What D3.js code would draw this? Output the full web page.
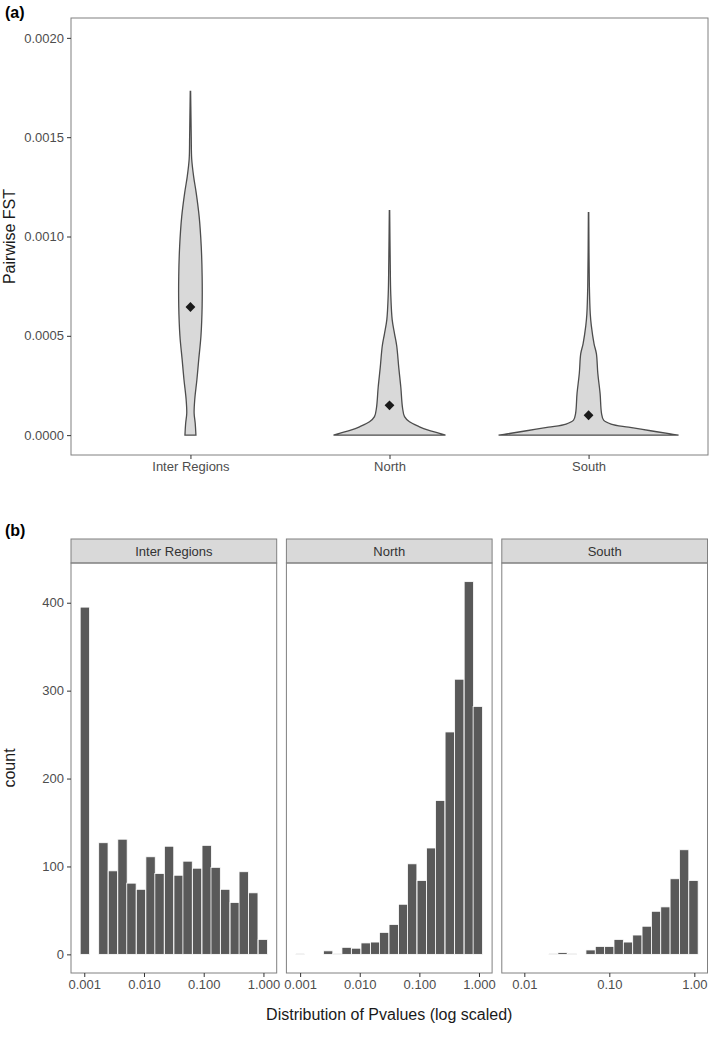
<!DOCTYPE html>
<html>
<head>
<meta charset="utf-8">
<script src="https://cdn.jsdelivr.net/npm/d3@7"></script>
<style>
  body { margin: 0; background: #fff; }
  text { font-family: "Liberation Sans", Arial, sans-serif; }
</style>
</head>
<body>
<svg id="fig" width="709" height="1046"></svg>
<script>
/*******************************************************************************************/
// Data

var groups = ['Inter Regions', 'North', 'South'];
var fstMeans = [0.000645, 0.00015, 0.0001];
var fstLimits = [0, 0.002];
var fstTicks = [0, 0.0005, 0.0010, 0.0015, 0.0020];

// violin outlines: FST level and scaled density (1 = widest violin)
var interFst  = [0, 0.00006, 0.00011, 0.00018, 0.00028, 0.00038, 0.0005, 0.00065, 0.0008, 0.00095, 0.0011, 0.00122, 0.0013, 0.00139, 0.0015, 0.0016, 0.00173];
var interDens = [0.061, 0.053, 0.041, 0.048, 0.072, 0.092, 0.117, 0.13, 0.13, 0.12, 0.097, 0.064, 0.036, 0.014, 0.009, 0.006, 0.002];
var northFst  = [0, 0.000009, 0.000026, 0.000042, 0.000067, 0.000093, 0.00014, 0.00024, 0.00034, 0.00045, 0.00051, 0.00058, 0.00071, 0.00087, 0.00113];
var northDens = [0.622, 0.556, 0.422, 0.333, 0.222, 0.167, 0.144, 0.126, 0.103, 0.08, 0.056, 0.03, 0.014, 0.008, 0.002];
var southFst  = [0, 0.000006, 0.000022, 0.00004, 0.000056, 0.000076, 0.00011, 0.00021, 0.00031, 0.00041, 0.00046, 0.00055, 0.00061, 0.00075, 0.00112];
var southDens = [1, 0.911, 0.689, 0.444, 0.25, 0.167, 0.144, 0.128, 0.103, 0.087, 0.061, 0.031, 0.019, 0.009, 0.002];

// histograms: bin centres (log10 p) and counts
var interBins   = [-2.99, -2.83, -2.68, -2.52, -2.36, -2.21, -2.05, -1.89, -1.74, -1.58, -1.42, -1.27, -1.11, -0.95, -0.80, -0.64, -0.48, -0.33, -0.17, -0.01];
var interCounts = [395, 0, 127, 95, 131, 81, 74, 111, 92, 123, 90, 106, 98, 124, 99, 74, 59, 94, 70, 17];
var northBins   = [-3.00, -2.84, -2.69, -2.53, -2.37, -2.22, -2.06, -1.90, -1.74, -1.59, -1.43, -1.27, -1.12, -0.96, -0.80, -0.65, -0.49, -0.33, -0.17, -0.02];
var northCounts = [1, 0, 0, 4, 1, 8, 7, 13, 14, 25, 34, 57, 103, 84, 121, 175, 253, 313, 424, 282];
var southBins   = [-2.10, -1.99, -1.88, -1.77, -1.66, -1.55, -1.44, -1.33, -1.22, -1.11, -1.00, -0.89, -0.78, -0.67, -0.56, -0.45, -0.34, -0.23, -0.12, -0.01];
var southCounts = [0, 0, 0, 0, 1, 2, 1, 0, 5, 9, 9, 17, 14, 22, 32, 49, 54, 86, 119, 84];

var binWidths = [0.1566, 0.157, 0.11];
var logDomains = [[-3.222, 0.222], [-3.23, 0.22], [-2.265, 0.155]];
var pTicks = [[0.001, 0.01, 0.1, 1], [0.001, 0.01, 0.1, 1], [0.01, 0.1, 1]];
var pFormats = ['.3f', '.3f', '.2f'];
var countTicks = [0, 100, 200, 300, 400];

/*******************************************************************************************/
// Setup

var svg = d3.select('#fig');
var borderCol = '#808080', tickCol = '#333', labCol = '#4d4d4d';

function styleAxis(g){
  g.select('.domain').remove();
  g.selectAll('line').attr('stroke', tickCol);
  g.selectAll('text').attr('fill', labCol).style('font-size', '13px');
}

/*******************************************************************************************/
// (a) violins

var box = { x0: 71, x1: 708, y0: 18, y1: 455 };
var pad = (fstLimits[1] - fstLimits[0]) * 0.05;
var yFst = d3.scaleLinear().domain([fstLimits[0] - pad, fstLimits[1] + pad]).range([box.y1, box.y0]);
var xGrp = d3.scalePoint().domain(groups).range([box.x0, box.x1]).padding(0.6);
var wScale = d3.scaleLinear().domain([0, 1]).range([0, 90]);

svg.append('rect').attr('x', box.x0).attr('y', box.y0).attr('width', box.x1 - box.x0).attr('height', box.y1 - box.y0)
   .attr('fill', 'none').attr('stroke', borderCol).attr('stroke-width', 1);

var violins = [
  { name: groups[0], fst: interFst, dens: interDens, mean: fstMeans[0] },
  { name: groups[1], fst: northFst, dens: northDens, mean: fstMeans[1] },
  { name: groups[2], fst: southFst, dens: southDens, mean: fstMeans[2] }
];

violins.forEach(function(v){
  var cx = xGrp(v.name);
  var pts = v.fst.map(function(f, i){ return { f: f, d: v.dens[i] } });
  var area = d3.area()
    .y(function(d){ return yFst(d.f) })
    .x0(function(d){ return cx - wScale(d.d) })
    .x1(function(d){ return cx + wScale(d.d) })
    .curve(d3.curveCatmullRom.alpha(0.5));
  svg.append('path').attr('d', area(pts))
     .attr('fill', '#d9d9d9').attr('stroke', '#4d4d4d').attr('stroke-width', 1.3);
  svg.append('path').attr('d', d3.symbol().type(d3.symbolSquare).size(48)())
     .attr('transform', 'translate(' + cx + ',' + yFst(v.mean) + ') rotate(45)')
     .attr('fill', '#1a1a1a');
});

svg.append('g').attr('transform', 'translate(' + box.x0 + ',0)')
   .call(d3.axisLeft(yFst).tickValues(fstTicks).tickFormat(d3.format('.4f')).tickSize(4).tickPadding(3))
   .call(styleAxis);
svg.append('g').attr('transform', 'translate(0,' + box.y1 + ')')
   .call(d3.axisBottom(xGrp).tickSize(4).tickPadding(3))
   .call(styleAxis);

svg.append('text').attr('transform', 'translate(15,' + ((box.y0 + box.y1) / 2) + ') rotate(-90)')
   .attr('text-anchor', 'middle').style('font-size', '16px').attr('fill', '#1a1a1a').text('Pairwise FST');
svg.append('text').attr('x', 5).attr('y', 18).style('font-size', '16px').style('font-weight', 'bold').text('(a)');

/*******************************************************************************************/
// (b) histograms

var stripTop = 539, stripH = 24, panTop = stripTop + stripH, panBot = 973;
var panW = 205.7, panX = [71, 286.4, 501.8];
var allMax = d3.max([].concat(interCounts, northCounts, southCounts));
var yCnt = d3.scaleLinear().domain([-allMax * 0.05, allMax * 1.05]).range([panBot, panTop]);

var hists = [
  { name: groups[0], bins: interBins, counts: interCounts },
  { name: groups[1], bins: northBins, counts: northCounts },
  { name: groups[2], bins: southBins, counts: southCounts }
];

hists.forEach(function(h, k){
  var x0 = panX[k];
  var xP = d3.scaleLog().domain(logDomains[k].map(function(d){ return Math.pow(10, d) })).range([x0, x0 + panW]);
  var hw = binWidths[k] / 2;

  svg.append('rect').attr('x', x0).attr('y', stripTop).attr('width', panW).attr('height', stripH)
     .attr('fill', '#d9d9d9').attr('stroke', borderCol);
  svg.append('text').attr('x', x0 + panW / 2).attr('y', stripTop + stripH / 2 + 4.5)
     .attr('text-anchor', 'middle').style('font-size', '13px').attr('fill', '#333').text(h.name);

  svg.append('g').selectAll('rect').data(h.bins.map(function(b, i){ return { b: b, n: h.counts[i] } })
      .filter(function(d){ return d.n > 0 }))
    .enter().append('rect')
      .attr('x', function(d){ return xP(Math.pow(10, d.b - hw)) })
      .attr('width', function(d){ return xP(Math.pow(10, d.b + hw)) - xP(Math.pow(10, d.b - hw)) })
      .attr('y', function(d){ return yCnt(d.n) })
      .attr('height', function(d){ return yCnt(0) - yCnt(d.n) })
      .attr('fill', '#595959').attr('stroke', '#fff').attr('stroke-width', 0.8);

  svg.append('rect').attr('x', x0).attr('y', panTop).attr('width', panW).attr('height', panBot - panTop)
     .attr('fill', 'none').attr('stroke', borderCol);

  svg.append('g').attr('transform', 'translate(0,' + panBot + ')')
     .call(d3.axisBottom(xP).tickValues(pTicks[k]).tickFormat(d3.format(pFormats[k])).tickSize(4).tickPadding(3))
     .call(styleAxis);
});

svg.append('g').attr('transform', 'translate(' + panX[0] + ',0)')
   .call(d3.axisLeft(yCnt).tickValues(countTicks).tickSize(4).tickPadding(3))
   .call(styleAxis);

svg.append('text').attr('transform', 'translate(15,' + ((panTop + panBot) / 2) + ') rotate(-90)')
   .attr('text-anchor', 'middle').style('font-size', '16px').attr('fill', '#1a1a1a').text('count');
svg.append('text').attr('x', (panX[0] + panX[2] + panW) / 2).attr('y', 1020)
   .attr('text-anchor', 'middle').style('font-size', '16px').attr('fill', '#1a1a1a').text('Distribution of Pvalues (log scaled)');
svg.append('text').attr('x', 5).attr('y', 536).style('font-size', '16px').style('font-weight', 'bold').text('(b)');
</script>
</body>
</html>
